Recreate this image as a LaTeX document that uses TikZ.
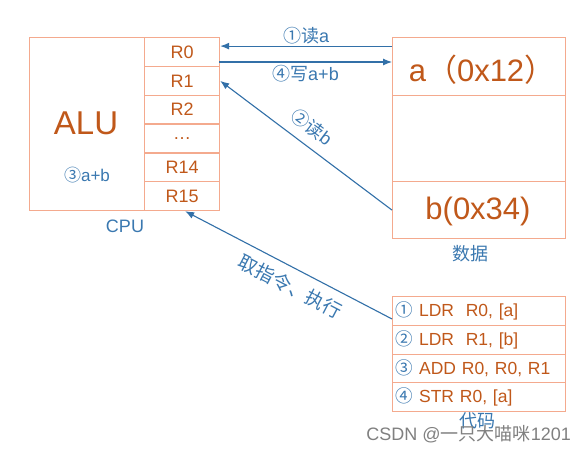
\documentclass[tikz,border=0pt]{standalone}
\usepackage{fontspec}
\setmainfont{Liberation Sans}
\newfontfamily\cjk{Noto Sans CJK SC}
\usetikzlibrary{arrows.meta}
\definecolor{boxline}{HTML}{F4AA8E}
\definecolor{otext}{HTML}{C0581A}
\definecolor{btext}{HTML}{3A78B0}
\definecolor{bline}{HTML}{3270A8}
\definecolor{wm}{HTML}{808080}
\newcommand{\zh}[1]{{\cjk #1}}
\newcommand{\fs}[1]{\fontsize{#1}{#1}\selectfont}
\begin{document}
\begin{tikzpicture}[x=1pt,y=-1pt,
  cell/.style={draw=boxline,line width=1.2pt,anchor=north west,inner sep=0pt},
  reg/.style={cell,minimum width=75pt,minimum height=28.83pt,text=otext,font=\fs{18}},
  dcell/.style={cell,minimum width=173pt,text=otext,font=\fs{31}},
  ccell/.style={cell,minimum width=173pt,minimum height=28.75pt,text=otext,font=\fs{17.5},
     text width=167pt,align=left,inner xsep=3pt},
  blab/.style={text=btext,font=\fs{18},inner sep=1pt},
  arr/.style={draw=bline,line width=1.1pt,-{Latex[length=9pt,width=7pt]}}
]
\fill[white] (0,0) rectangle (588,453);
\useasboundingbox (0,0) rectangle (588,453);

% CPU
\node[cell,minimum width=190pt,minimum height=173pt] (cpu) at (29,37) {};
\node[reg] (r0) at (144,37) {R0};
\node[reg] (r1) at (144,65.83) {R1};
\node[reg] (r2) at (144,94.66) {R2};
\node[reg] (rd) at (144,123.49) {\ldots};
\node[reg] (r14) at (144,152.32) {R14};
\node[reg] (r15) at (144,181.15) {R15};
\node[text=otext,font=\fs{33}] (alu) at (86,123.5) {ALU};
\node[text=btext,font=\fs{17}] (add) at (87,175) {\zh{③}a+b};
\node[blab] (cpul) at (125,226) {CPU};

% Data
\node[dcell,minimum height=58pt] (da) at (392,37) {};
\node[dcell,minimum height=86pt] (dm) at (392,95) {};
\node[dcell,minimum height=57pt] (db) at (392,181) {};
\node[text=otext,font=\fs{31}] (atext) at (482,70) {a\zh{（}0x12\zh{）}};
\node[text=otext,font=\fs{31}] (btext) at (478,211) {b(0x34)};
\node[blab] (datal) at (470,254) {\zh{数据}};

% Code
\node[ccell] (c1) at (392,296) {\textcolor{btext}{\zh{①}}\hspace{6pt}LDR\ \ R0, [a]};
\node[ccell] (c2) at (392,324.75) {\textcolor{btext}{\zh{②}}\hspace{6pt}LDR\ \ R1, [b]};
\node[ccell] (c3) at (392,353.5) {\textcolor{btext}{\zh{③}}\hspace{6pt}ADD R0, R0, R1};
\node[ccell] (c4) at (392,382.25) {\textcolor{btext}{\zh{④}}\hspace{6pt}STR R0, [a]};
\node[blab] (codel) at (477,421) {\zh{代码}};

% arrows
\coordinate (pa) at ([yshift=20.5pt]da.west);
\draw[arr] (pa) -- (pa -| r0.east) node[midway,above=1pt,blab] (l1) {\zh{①读}a};
\coordinate (pw) at (219,62);
\draw[arr] (pw) -- (pw -| da.west) node[midway,below=2pt,blab] (l4) {\zh{④写}a+b};
\draw[arr] (db.west) -- (r1.east) node[pos=0.53,sloped,above=8pt,blab] (l2) {\zh{②读}b};
\coordinate (fs) at ([yshift=-8pt]c1.west);
\draw[arr] (fs) -- ([xshift=3pt]r15.south) node[pos=0.45,sloped,below=8pt,blab,font=\fs{19}] (lf) {\zh{取指令、执行}};

% watermark
\node[text=wm,font=\fs{18},anchor=east,inner sep=0pt] (wmk) at (571,434) {CSDN @\zh{一只大喵咪}1201};
\end{tikzpicture}
\end{document}
